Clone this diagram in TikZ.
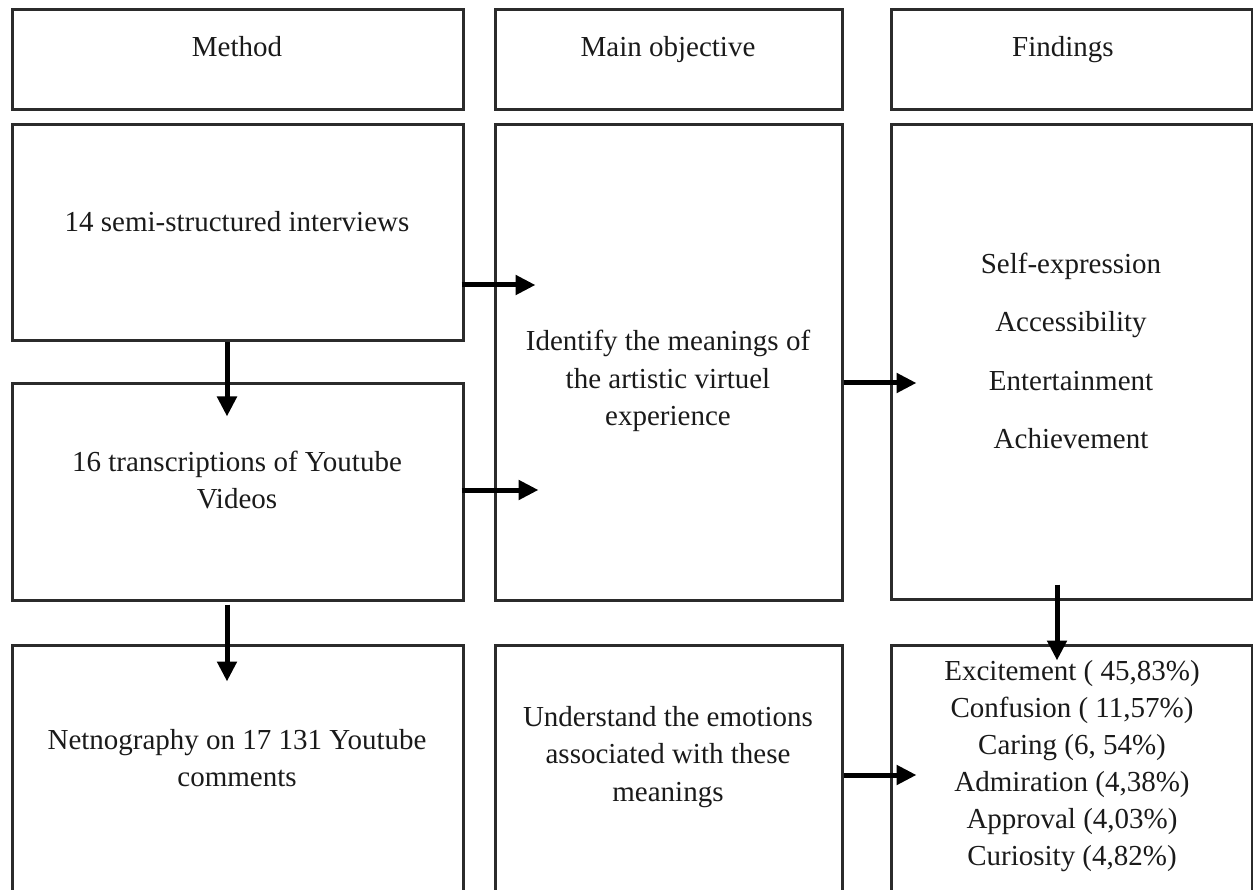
\documentclass[tikz,border=0pt]{standalone}
\usepackage{fontspec}
\setmainfont{Liberation Serif}
\usetikzlibrary{arrows.meta,calc}
\definecolor{edge}{HTML}{2B2B2B}
\definecolor{ink}{HTML}{1A1A1A}
\begin{document}
\begin{tikzpicture}[x=1pt,y=-1pt,
  box/.style={draw=edge, line width=3pt, rectangle, inner sep=0pt},
  lbl/.style={text=ink, align=center, inner sep=0pt,
    font=\fontsize{29}{37.5}\selectfont},
  arr/.style={draw=black, line width=5pt,
    -{Triangle[length=20pt,width=19pt]}}]
\useasboundingbox (0,0) rectangle (1253,890);
\clip (0,0) rectangle (1253,890);

% column headers
\node[box, minimum width=451pt, minimum height=100pt] (hm) at (237.5,60) {};
\node[box, minimum width=347pt, minimum height=100pt] (ho) at (668.5,60) {};
\node[box, minimum width=361pt, minimum height=100pt] (hf) at (1071.5,60) {};

% method column
\node[box, minimum width=451pt, minimum height=216pt] (mA) at (237.5,233) {};
\node[box, minimum width=451pt, minimum height=216pt] (mB) at (237.5,492) {};
\node[box, minimum width=451pt, minimum height=260pt] (mC) at (237.5,775) {};

% objective column
\node[box, minimum width=347pt, minimum height=475pt] (oI) at (668.5,362.5) {};
\node[box, minimum width=347pt, minimum height=260pt] (oU) at (668.5,775) {};

% findings column
\node[box, minimum width=361pt, minimum height=474pt] (fS) at (1071.5,362) {};
\node[box, minimum width=361pt, minimum height=260pt] (fE) at (1071.5,775) {};

% header texts, set on a common baseline
\node[lbl, anchor=base] (tm) at (237,57) {Method};
\node[lbl, anchor=base] (to) at (668,57) {Main objective};
\node[lbl, anchor=base] (tf) at (1063,57) {Findings};

\node[lbl] (t14) at (237,222) {14 semi-structured interviews};
\node[lbl] (t16) at (237,480) {16 transcriptions of Youtube\\Videos};
\node[lbl] (tnet) at (237,758) {Netnography on 17 131 Youtube\\comments};

\node[lbl] (tid) at (668,381) {Identify the meanings of\\the artistic virtuel\\experience};
\node[lbl] (tun) at (668,757) {Understand the emotions\\associated with these\\meanings};

\node[lbl, font=\fontsize{29}{58.3}\selectfont] (tfs) at (1071,351)
  {Self-expression\\Accessibility\\Entertainment\\Achievement};
\node[lbl, font=\fontsize{29}{37}\selectfont] (tem) at (1072,766)
  {Excitement ( 45,83\%)\\Confusion ( 11,57\%)\\Caring (6, 54\%)\\Admiration (4,38\%)\\Approval (4,03\%)\\Curiosity (4,82\%)};

% connectors
\draw[arr] ($(mA.east)+(-3,52)$) -- ($(oI.west)+(42,-77.5)$);
\draw[arr] ($(mB.east)+(-3,-2)$) -- ($(oI.west)+(45,127.5)$);
\draw[arr] ($(mA.south)+(-10.5,0)$) -- ($(mB.north)+(-10.5,34)$);
\draw[arr] ($(mB.south)+(-10.5,3)$) -- ($(mC.north)+(-10.5,38)$);
\draw[arr] ($(oI.east)+(0,20.5)$) -- ($(fS.west)+(27,21)$);
\draw[arr] (oU.east) -- ($(fE.west)+(27,0)$);
\draw[arr] ($(fS.south)+(-14.5,-16)$) -- ($(fE.north)+(-14.5,17)$);
\end{tikzpicture}
\end{document}
